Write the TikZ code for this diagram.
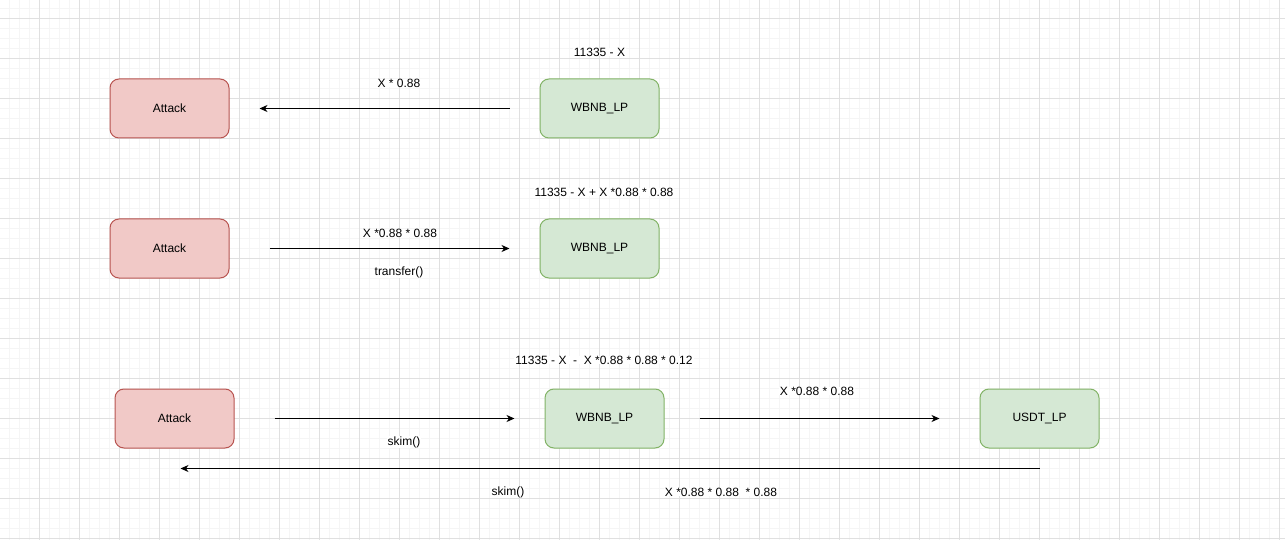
\documentclass[tikz,border=0pt]{standalone}
\usepackage{fontspec}
\setmainfont{Liberation Sans}
\usetikzlibrary{arrows.meta,calc}
\definecolor{redfill}{HTML}{F1C9C7}
\definecolor{redline}{HTML}{B85450}
\definecolor{greenfill}{HTML}{D5E8D4}
\definecolor{greenline}{HTML}{82B366}
\definecolor{gridminor}{HTML}{F5F5F5}
\definecolor{gridmajor}{HTML}{E0E0E0}
\tikzset{
  box/.style={rounded corners=9pt, minimum width=119pt, minimum height=59pt, line width=1pt, inner sep=0pt},
  attackbox/.style={box, fill=redfill, draw=redline},
  lpbox/.style={box, fill=greenfill, draw=greenline},
  lbl/.style={inner sep=0pt, fill=white, inner xsep=1pt},
  conn/.style={line width=1pt, -{Stealth[length=8pt,width=7pt,inset=2.5pt]}},
}
\begin{document}
\begin{tikzpicture}[x=1pt,y=-1pt, font=\fontsize{12}{14}\selectfont]
\useasboundingbox (0,0) rectangle (1285,540);
\fill[white] (0,0) rectangle (1285,540);
\foreach \x in {9,19,...,1284} \draw[gridminor, line width=0.8pt] (\x,0) -- (\x,540);
\foreach \y in {8,18,...,539} \draw[gridminor, line width=0.8pt] (0,\y) -- (1285,\y);
\foreach \x in {39,79,...,1284} \draw[gridmajor, line width=0.8pt] (\x,0) -- (\x,540);
\foreach \y in {18,58,...,539} \draw[gridmajor, line width=0.8pt] (0,\y) -- (1285,\y);

% row 1
\node[attackbox] (a1) at (169.5,108.5) {Attack};
\node[lpbox] (w1) at (599.5,108.5) {WBNB\_LP};
\draw[conn] ([xshift=-30pt]w1.west) -- ([xshift=30pt]a1.east);
\node[lbl] (l1) at (399,83) {X * 0.88};
\node[lbl] (t1) at (599.5,52) {11335 - X};

% row 2
\node[attackbox] (a2) at (169.5,248.5) {Attack};
\node[lpbox] (w2) at (599.5,248.5) {WBNB\_LP};
\draw[conn] ([xshift=40pt]a2.east) -- ([xshift=-30pt]w2.west);
\node[lbl] (l2) at (400,233) {X *0.88 * 0.88};
\node[lbl] (l2b) at (399,272) {transfer()};
\node[lbl] (t2) at (604,192) {11335 - X + X *0.88 * 0.88};

% row 3
\node[attackbox] (a3) at (174.5,418.5) {Attack};
\node[lpbox] (w3) at (604.5,418.5) {WBNB\_LP};
\node[lpbox] (u3) at (1039.5,418.5) {USDT\_LP};
\draw[conn] ([xshift=40pt]a3.east) -- ([xshift=-30pt]w3.west);
\draw[conn] ([xshift=35pt]w3.east) -- ([xshift=-40pt]u3.west);
\coordinate (back) at ($(a3.south)+(6,20)$);
\draw[conn] ($(u3.south)+(0,20)$) -- (back);
\node[lbl] (t3) at (604,360) {11335 - X \ - \ X *0.88 * 0.88 * 0.12};
\node[lbl] (l3) at (404,442) {skim()};
\node[lbl] (l4) at (817,391) {X *0.88 * 0.88};
\node[lbl] (l5) at (508,492) {skim()};
\node[lbl] (l6) at (721,492) {X *0.88 * 0.88 \ * 0.88};
\end{tikzpicture}
\end{document}
